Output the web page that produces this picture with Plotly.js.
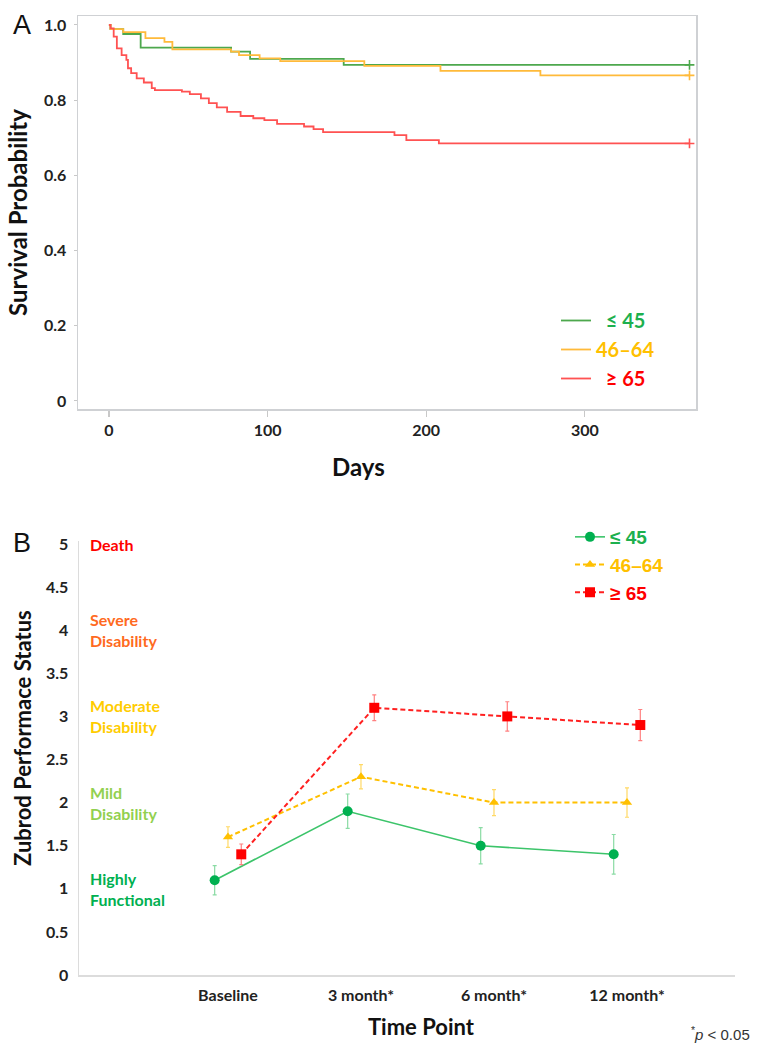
<!DOCTYPE html>
<html>
<head>
<meta charset="utf-8">
<script src="https://cdn.plot.ly/plotly-3.0.1.min.js"></script>
<style>html,body{margin:0;padding:0;background:#fff}</style>
</head>
<body>
<div id="chart" style="width:761px;height:1050px"></div>
<script>
// ---------- Panel A: Kaplan-Meier survival by age group ----------
const groupNames = ['≤ 45', '46–64', '≥ 65'];

const daysLe45 = [0, 1, 9, 20, 77, 89, 148, 366];
const survLe45 = [1.0, 0.989, 0.976, 0.940, 0.929, 0.910, 0.894, 0.894];

const days46to64 = [0, 1, 9, 23, 35, 40, 77, 82, 95, 108, 161, 209, 272, 366];
const surv46to64 = [1.0, 0.989, 0.981, 0.965, 0.955, 0.935, 0.929, 0.920, 0.911, 0.904, 0.891, 0.878, 0.866, 0.866];

const daysGe65 = [0, 1, 3, 5, 8, 11, 12, 14, 17.5, 22, 27, 29, 46, 51, 58, 63, 68, 74.5, 83, 91, 98, 106, 123, 129, 135, 180, 187.5, 208, 366];
const survGe65 = [1.0, 0.991, 0.969, 0.938, 0.920, 0.907, 0.885, 0.872, 0.858, 0.847, 0.832, 0.827, 0.823, 0.816, 0.805, 0.792, 0.781, 0.769, 0.758, 0.752, 0.747, 0.737, 0.730, 0.723, 0.715, 0.707, 0.694, 0.685, 0.685];

const survTickVals = [0, 0.2, 0.4, 0.6, 0.8, 1.0];
const survTickText = ['0', '0.2', '0.4', '0.6', '0.8', '1.0'];
const dayTickVals = [0, 100, 200, 300];

// ---------- Panel B: Zubrod performance status ----------
const timePoints = ['Baseline', '3 month*', '6 month*', '12 month*'];
const zubrodLe45 = [1.1, 1.9, 1.5, 1.4];
const errLe45 = [0.17, 0.20, 0.21, 0.23];
const zubrod46to64 = [1.6, 2.3, 2.0, 2.0];
const err46to64 = [0.12, 0.14, 0.15, 0.17];
const zubrodGe65 = [1.4, 3.1, 3.0, 2.9];
const errGe65 = [0.12, 0.15, 0.17, 0.18];

const statusLabels = ['Highly<br>Functional', 'Mild<br>Disability', 'Moderate<br>Disability', 'Severe<br>Disability', 'Death'];
const statusLevels = [1, 2, 3, 4, 5];
const zubrodTickVals = [0, 0.5, 1, 1.5, 2, 2.5, 3, 3.5, 4, 4.5, 5];
const zubrodTickText = ['0', '0.5', '1', '1.5', '2', '2.5', '3', '3.5', '4', '4.5', '5'];

// ---------- styling ----------
const W = 761, H = 1050;
const px = v => v / W;
const py = v => 1 - v / H;

const kmColors = ['#4DA84D', '#FFBA3A', '#FF5252'];
const textColors = ['#1DB04E', '#FFC000', '#FF0000'];
const bLine = ['#3CC46A', '#FFC000', '#FF2020'];
const bMarker = ['#00B050', '#FFC000', '#FF0000'];
const bErr = ['#8ADBA4', '#FFD966', '#FF8080'];
const statusColors = ['#00B050', '#92D050', '#FFCC00', '#FF6A21', '#FF0000'];
const FONT = 'Lato, "Noto Sans", sans-serif';

const kmDays = [daysLe45, days46to64, daysGe65];
const kmSurv = [survLe45, surv46to64, survGe65];
const pads = ['\u00A0\u00A0', '', '\u00A0\u00A0'];
const legendName = (i, pad) => '<span style="color:' + textColors[i] + '">' + pad + groupNames[i] + '</span>';

const traces = [];
for (let i = 0; i < 3; i++) {
  traces.push({
    type: 'scatter', mode: 'lines', x: kmDays[i], y: kmSurv[i],
    line: {shape: 'hv', color: kmColors[i], width: 1.8},
    name: legendName(i, pads[i]), legend: 'legend', xaxis: 'x', yaxis: 'y',
    hoverinfo: 'skip'
  });
}
for (let i = 0; i < 3; i++) {
  const n = kmDays[i].length;
  traces.push({
    type: 'scatter', mode: 'markers',
    x: [kmDays[i][n - 1]], y: [kmSurv[i][n - 1]],
    marker: {symbol: 'cross-thin', size: 7, line: {color: kmColors[i], width: 1.6}},
    showlegend: false, xaxis: 'x', yaxis: 'y', hoverinfo: 'skip'
  });
}

const bVals = [zubrodLe45, zubrod46to64, zubrodGe65];
const bErrs = [errLe45, err46to64, errGe65];
const bSymbols = ['circle', 'triangle-up', 'square'];
const bDash = ['solid', '5px,3px', '5px,3px'];
const dodge = [-0.1, 0, 0.1];
for (let i = 0; i < 3; i++) {
  traces.push({
    type: 'scatter', mode: 'lines+markers',
    x: timePoints.map((_, k) => k + dodge[i]), y: bVals[i],
    error_y: {type: 'data', array: bErrs[i], visible: true, color: bErr[i], thickness: 1.2, width: 2},
    line: {color: bLine[i], width: i === 0 ? 1.6 : 2, dash: bDash[i]},
    marker: {symbol: bSymbols[i], size: i === 1 ? 9 : 10, color: bMarker[i]},
    name: '<span style="color:' + textColors[i] + '">' + groupNames[i] + '</span>',
    legend: 'legend2', xaxis: 'x2', yaxis: 'y2', hoverinfo: 'skip'
  });
}

const annotations = [
  {text: 'A', xref: 'paper', yref: 'paper', x: px(22), y: py(25), xanchor: 'center', yanchor: 'middle', showarrow: false,
   font: {family: '"Liberation Sans", Arial, sans-serif', size: 27, color: '#111'}},
  {text: 'B', xref: 'paper', yref: 'paper', x: px(22), y: py(543), xanchor: 'center', yanchor: 'middle', showarrow: false,
   font: {family: '"Liberation Sans", Arial, sans-serif', size: 27, color: '#111'}},
  {text: 'Days', xref: 'paper', yref: 'paper', x: px(358), y: py(467), xanchor: 'center', yanchor: 'middle', showarrow: false,
   font: {family: FONT, size: 24, weight: 'bold', color: '#111'}},
  {text: 'Zubrod Performace Status', xref: 'paper', yref: 'paper', x: px(22), y: py(738), xanchor: 'center', yanchor: 'middle',
   textangle: -90, showarrow: false, font: {family: FONT, size: 22, weight: 'bold', color: '#111'}},
  {text: 'Time Point', xref: 'paper', yref: 'paper', x: px(421), y: py(1026), xanchor: 'center', yanchor: 'middle', showarrow: false,
   font: {family: FONT, size: 22, weight: 'bold', color: '#111'}},
  {text: '<sup>*</sup><i>p</i> &lt; 0.05', xref: 'paper', yref: 'paper', x: px(752), y: py(1033), xanchor: 'right', yanchor: 'middle', showarrow: false,
   font: {family: '"Liberation Sans", Arial, sans-serif', size: 15, color: '#333'}}
];
for (let i = 0; i < statusLabels.length; i++) {
  annotations.push({
    text: statusLabels[i], xref: 'paper', yref: 'y2', x: px(88), y: statusLevels[i],
    xanchor: 'left', yanchor: 'middle', align: 'left', showarrow: false,
    font: {family: FONT, size: 16, weight: 'bold', color: statusColors[i]}
  });
}

const layout = {
  width: W, height: H,
  margin: {l: 0, r: 0, t: 0, b: 0},
  paper_bgcolor: '#fff', plot_bgcolor: '#fff',
  showlegend: true,
  xaxis: {
    domain: [px(78), px(696)], range: [-19.5, 370.1], anchor: 'y',
    tickvals: dayTickVals, ticks: 'outside', ticklen: 6, tickcolor: '#c8c8c8', tickwidth: 1.2,
    showline: true, mirror: true, linecolor: '#cfd1d4', linewidth: 1.5,
    showgrid: false, zeroline: false,
    tickfont: {family: FONT, size: 16, weight: 'bold', color: '#222'}
  },
  yaxis: {
    domain: [py(409), py(16)], range: [-0.0213, 1.0239], anchor: 'x',
    tickvals: survTickVals, ticktext: survTickText, ticks: 'outside', ticklen: 3, tickcolor: '#c8c8c8',
    showline: true, mirror: true, linecolor: '#cfd1d4', linewidth: 1.5,
    showgrid: false, zeroline: false, ticklabelstandoff: 4,
    tickfont: {family: FONT, size: 16, weight: 'bold', color: '#222'},
    title: {text: 'Survival Probability', standoff: 9, font: {family: FONT, size: 24, weight: 'bold', color: '#111'}}
  },
  xaxis2: {
    domain: [px(79), px(735)], range: [-1.12, 3.812], anchor: 'y2',
    tickvals: [0, 1, 2, 3], ticktext: timePoints, ticks: '',
    showline: true, linecolor: '#dcdcdc', linewidth: 1.5,
    showgrid: false, zeroline: false, ticklabelstandoff: 5,
    tickfont: {family: FONT, size: 16, weight: 'bold', color: '#222'}
  },
  yaxis2: {
    domain: [py(975), py(541)], range: [0, 5.035], anchor: 'x2',
    tickvals: zubrodTickVals, ticktext: zubrodTickText, ticks: '',
    showline: true, linecolor: '#dcdcdc', linewidth: 1.5,
    showgrid: false, zeroline: false, ticklabelstandoff: 6,
    tickfont: {family: FONT, size: 16, weight: 'bold', color: '#222'}
  },
  legend: {
    x: px(556), y: py(301), xanchor: 'left', yanchor: 'top',
    bgcolor: 'rgba(0,0,0,0)', borderwidth: 0, itemwidth: 30, tracegroupgap: 0,
    font: {family: FONT, size: 20, weight: 'bold'}
  },
  legend2: {
    x: px(570), y: py(518), xanchor: 'left', yanchor: 'top',
    bgcolor: 'rgba(0,0,0,0)', borderwidth: 0, itemwidth: 30, tracegroupgap: 0,
    font: {family: '"Liberation Sans", Arial, sans-serif', size: 19, weight: 'bold'}
  },
  annotations: annotations
};

Plotly.newPlot('chart', traces, layout, {staticPlot: true, displayModeBar: false});
</script>
</body>
</html>
